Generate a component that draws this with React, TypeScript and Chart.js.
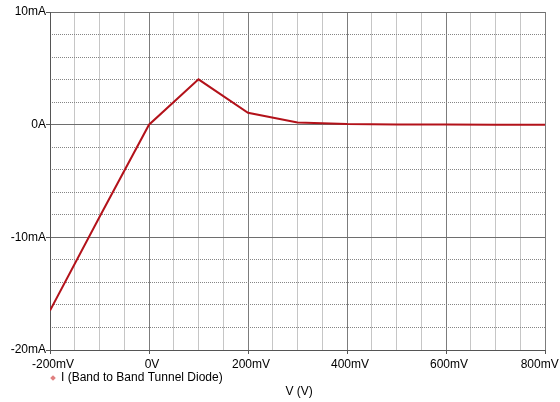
import React, { useEffect, useRef } from "react";
import { Chart, registerables } from "chart.js";

Chart.register(...registerables);

// Data (V in mV, I in mA)
const voltages = [-200, -100, 0, 100, 200, 300, 400, 500, 600, 700, 800];
const currents = [-16.5, -8.2, 0, 4.02, 1.05, 0.2, 0.06, 0.02, 0.01, 0, 0];
const seriesLabel = "I (Band to Band Tunnel Diode)";
const xAxisTitle = "\u00a0V (V)";

const xTickValues = [-200, 0, 200, 400, 600, 800];
const xTickLabels = ["-200mV", "0V", "200mV", "400mV", "600mV", "800mV\u00a0\u00a0\u00a0\u00a0\u00a0"];
const yTickValues = [-20, -10, 0, 10];
const yTickLabels = ["-20mA", "-10mA", "0A", "10mA"];

const FONT = { family: "'Liberation Sans', Arial, sans-serif", size: 12 };

export default function App() {
  const ref = useRef<HTMLCanvasElement | null>(null);

  useEffect(() => {
    document.body.style.margin = "0";
    if (!ref.current) return;
    const isMajorX = (v: number) => xTickValues.indexOf(v) >= 0;
    const chart = new Chart(ref.current, {
      type: "line",
      data: {
        datasets: [
          {
            label: seriesLabel,
            data: voltages.map((v, i) => ({ x: v, y: currents[i] })),
            borderColor: "#b3121a",
            borderWidth: 2,
            pointRadius: 0,
            pointHoverRadius: 0,
            pointStyle: "rectRot",
            pointBackgroundColor: "#e08080",
            pointBorderColor: "#e08080",
            pointBorderWidth: 0,
            tension: 0,
            fill: false,
          },
        ],
      },
      options: {
        animation: false,
        responsive: false,
        devicePixelRatio: 1,
        layout: { padding: { left: 0, right: 1, top: 12, bottom: 3.6 } },
        plugins: {
          tooltip: { enabled: false },
          legend: {
            position: "bottom",
            align: "start",
            fullSize: false,
            maxHeight: 13,
            labels: {
              usePointStyle: true,
              boxWidth: 4,
              boxHeight: 4,
              padding: 1,
              color: "#000",
              font: FONT,
            },
          },
          title: {
            display: true,
            text: xAxisTitle,
            position: "bottom",
            fullSize: false,
            padding: 0,
            color: "#000",
            font: { ...FONT, weight: "normal" },
          },
        },
        scales: {
          x: {
            type: "linear",
            min: -200,
            max: 800,
            afterFit: (s: any) => {
              s.height = 21;
              s.paddingLeft = 0;
              s.paddingRight = 15;
            },
            ticks: {
              stepSize: 50,
              autoSkip: false,
              maxRotation: 0,
              padding: 3,
              labelOffset: 3,
              color: "#000",
              font: FONT,
              callback: (v: any) => {
                const i = xTickValues.indexOf(Number(v));
                return i >= 0 ? xTickLabels[i] : "";
              },
            },
            grid: {
              color: (c: any) => (isMajorX(c.tick?.value) ? "#7c7c7c" : "#c6c6c6"),
              tickColor: (c: any) => (isMajorX(c.tick?.value) ? "#555" : "rgba(0,0,0,0)"),
              tickLength: 4,
            },
            border: { color: "#555", width: 1 },
          },
          y2: {
            type: "linear",
            position: "left",
            min: -20,
            max: 10,
            afterFit: (s: any) => {
              s.width = 0;
            },
            ticks: { display: false, stepSize: 2 },
            grid: {
              color: (c: any) =>
                c.tick && c.tick.value % 10 === 0 ? "rgba(0,0,0,0)" : "#858585",
              drawTicks: false,
            },
            border: { display: false, dash: [1, 1] },
          },
          y: {
            type: "linear",
            position: "left",
            min: -20,
            max: 10,
            afterFit: (s: any) => {
              s.width = 50;
            },
            ticks: {
              stepSize: 10,
              padding: 0,
              color: "#000",
              font: FONT,
              callback: (v: any) => {
                const i = yTickValues.indexOf(Number(v));
                return i >= 0 ? yTickLabels[i] : "";
              },
            },
            grid: {
              color: "#6e6e6e",
              tickColor: "#555",
              tickLength: 4,
            },
            border: { color: "#555", width: 1 },
          },
        },
      } as any,
    });
    return () => chart.destroy();
  }, []);

  return (
    <div style={{ width: 560, height: 402 }}>
      <canvas ref={ref} width={560} height={402} style={{ display: "block" }} />
    </div>
  );
}
